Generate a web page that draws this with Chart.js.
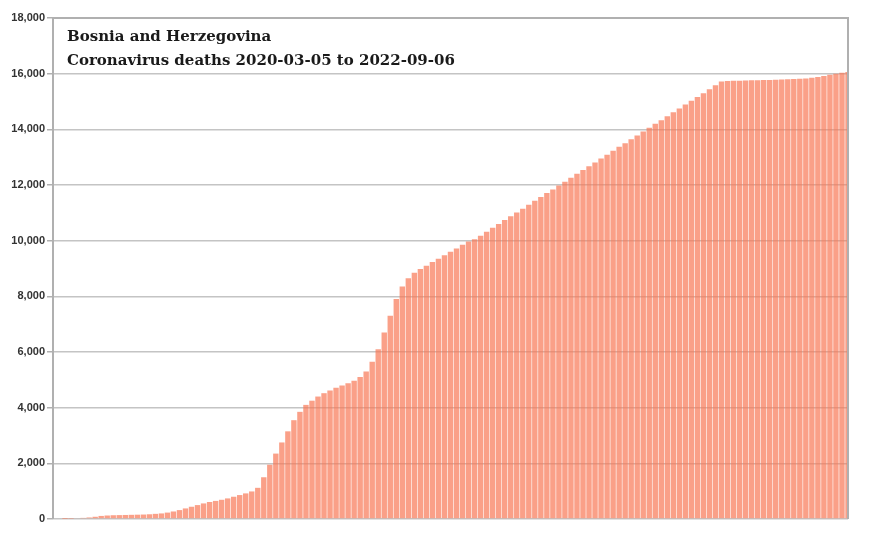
<!DOCTYPE html>
<html><head><meta charset="utf-8">
<script src="https://cdn.jsdelivr.net/npm/chart.js@4"></script>
<style>html,body{margin:0;padding:0;background:#fff}#w{width:872px;height:543px}</style>
</head><body><div id="w"><canvas id="c"></canvas></div>
<script>
const titleLines = ["Bosnia and Herzegovina", "Coronavirus deaths 2020-03-05 to 2022-09-06"];
const yTicks = [0,2000,4000,6000,8000,10000,12000,14000,16000,18000];
// weekly cumulative deaths
const deaths = [0,0,2,10,25,40,55,80,110,125,135,140,145,150,155,160,170,185,200,230,
270,320,380,440,500,560,610,650,690,740,800,860,920,990,1120,1500,1950,2350,2750,3150,
3550,3850,4100,4250,4400,4520,4620,4720,4800,4880,4970,5100,5300,5650,6100,6700,7300,7900,8350,8650,
8850,8980,9100,9230,9350,9480,9600,9720,9850,9970,10050,10180,10320,10460,10600,10740,10880,11010,11150,11290,
11430,11570,11710,11840,11980,12120,12260,12400,12540,12670,12810,12950,13090,13230,13370,13500,13640,13780,13920,14060,
14200,14330,14470,14610,14750,14890,15030,15160,15300,15440,15580,15720,15740,15745,15750,15755,15760,15765,15770,15775,
15780,15790,15800,15810,15820,15830,15850,15880,15920,15960,16000,16030,16060];
const labels = deaths.map((_, i) => "w" + (i + 1));

const frame = {
  id: 'frame',
  afterDraw(ch) {
    const {ctx, chartArea: a} = ch;
    ctx.save();
    ctx.strokeStyle = '#b0b0b0'; ctx.lineWidth = 2;
    ctx.beginPath();
    ctx.moveTo(a.left, a.bottom); ctx.lineTo(a.left, a.top); ctx.lineTo(a.right, a.top); ctx.lineTo(a.right, a.bottom);
    ctx.stroke();
    ctx.fillStyle = '#1a1a1a';
    ctx.font = '600 15px "DejaVu Serif", "Liberation Serif", serif';
    ctx.textBaseline = 'alphabetic';
    ctx.fillText(titleLines[0], 67, 41);
    ctx.fillText(titleLines[1], 67, 65);
    ctx.restore();
  }
};

new Chart(document.getElementById('c'), {
  type: 'bar',
  data: { labels, datasets: [{ data: deaths, backgroundColor: 'rgba(248,120,85,0.7)', barPercentage: 0.9, categoryPercentage: 1.0 }] },
  options: {
    responsive: true, maintainAspectRatio: false, animation: false,
    layout: { padding: { top: 18, right: 24, bottom: 24, left: 0 } },
    plugins: { legend: { display: false }, tooltip: { enabled: false } },
    scales: {
      x: { display: false, offset: false },
      y: {
        min: 0, max: 18000,
        afterBuildTicks: s => { s.ticks = yTicks.map(v => ({ value: v })); },
        afterFit: s => { s.width = 53; },
        grid: { color: '#c4c4c4', lineWidth: 1.5, tickLength: 6, drawTicks: true, tickColor: '#b0b0b0' },
        border: { display: false },
        ticks: { color: '#333', font: { family: 'Liberation Sans, Arial', weight: 'bold', size: 11 },
          padding: 2, callback: v => v.toLocaleString('en-US') }
      }
    }
  },
  plugins: [frame]
});
</script></body></html>
